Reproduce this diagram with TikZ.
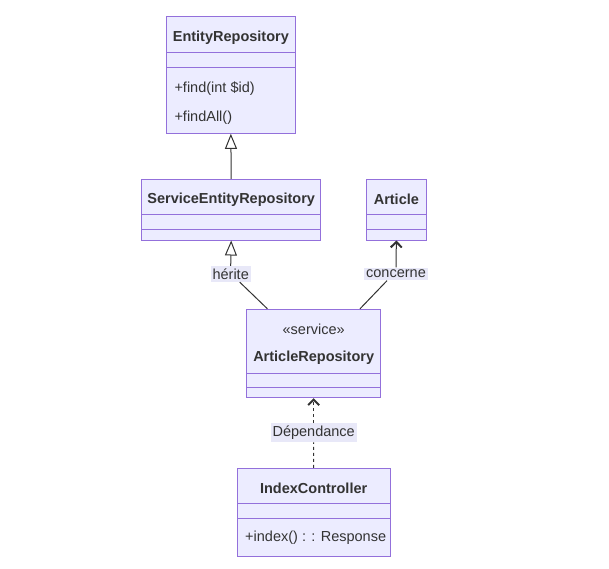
\documentclass[tikz,border=0pt]{standalone}
\usepackage{fontspec}
\setmainfont{Liberation Sans}
\usetikzlibrary{arrows.meta}
\definecolor{boxfill}{HTML}{ECECFF}
\definecolor{boxline}{HTML}{9370DB}
\definecolor{edgecol}{HTML}{333333}
\definecolor{lblbg}{HTML}{E8E8F8}

\begin{document}
\begin{tikzpicture}[x=1pt, y=-1pt]
            \tikzset{cls/.style = {draw=boxline, fill=boxfill, line width=1pt, inner sep=0pt}}
            \tikzset{div/.style = {boxline, line width=1pt}}
            \tikzset{txt/.style = {text=edgecol, inner sep=0pt, yshift=-1.5pt, font=\fontsize{14.5}{17}\selectfont}}
            \tikzset{bold/.style = {text=edgecol, inner sep=0pt, yshift=-1.5pt, font=\fontsize{14.5}{17}\selectfont\bfseries}}
            \tikzset{lbl/.style = {fill=lblbg, text=edgecol, inner xsep=2pt, inner ysep=2.5pt, font=\fontsize{14.5}{17}\selectfont}}
            \tikzset{plain/.style = {edgecol, line width=1pt}}
            \tikzset{inherit/.style = {edgecol, line width=1pt, -{Triangle[open, length=15pt, width=12pt]}}}
            \tikzset{assoc/.style = {edgecol, line width=1pt, -{Straight Barb[length=5.5pt, width=11pt, line width=2pt]}}}
            \tikzset{dep/.style = {edgecol, line width=1pt, dash pattern=on 3pt off 3pt}}

            \useasboundingbox (0,0) rectangle (609,568);

            % classes
            \node[cls, minimum width=128.3pt, minimum height=116.6pt] (er) at (230.85,75) {};
            \node[cls, minimum width=179pt, minimum height=60.7pt] (ser) at (231.2,209.65) {};
            \node[cls, minimum width=60.7pt, minimum height=60.7pt] (art) at (396.35,209.65) {};
            \node[cls, minimum width=134pt, minimum height=88.4pt] (ar) at (313.7,353.5) {};
            \node[cls, minimum width=152.7pt, minimum height=87.7pt] (ic) at (313.65,512.15) {};

            \draw[div] (166.7,52.3) -- (295,52.3);
            \draw[div] (166.7,67.3) -- (295,67.3);
            \draw[div] (141.7,214.3) -- (320.7,214.3);
            \draw[div] (141.7,229.3) -- (320.7,229.3);
            \draw[div] (366,214.3) -- (426.7,214.3);
            \draw[div] (366,229.3) -- (426.7,229.3);
            \draw[div] (246.7,373.3) -- (380.7,373.3);
            \draw[div] (246.7,387.3) -- (380.7,387.3);
            \draw[div] (237.3,503.3) -- (390,503.3);
            \draw[div] (237.3,518.3) -- (390,518.3);

            \node[bold] (ertitle) at (230.85,36) {EntityRepository};
            \node[txt, anchor=west] (erfind) at (174.3,86.7) {+find(int \$id)};
            \node[txt, anchor=west] (erall) at (174.3,116) {+findAll()};
            \node[bold] (sertitle) at (231.2,198) {ServiceEntityRepository};
            \node[bold] (arttitle) at (396.35,198) {Article};
            \node[txt] (arstereo) at (313.7,328.3) {«service»};
            \node[bold] (artitle) at (313.7,356) {ArticleRepository};
            \node[bold] (ictitle) at (313.65,486.7) {IndexController};
            \node[txt, anchor=west] (icindex) at (245,536.7) {+index() : : Response};

            % relations
            \node[lbl] (herite) at (230.7,274) {hérite};
            \node[lbl] (concerne) at (396,274) {concerne};
            \node[lbl] (depend) at (313.7,432.7) {Dépendance};

            \draw[inherit] (ser.north) -- (er.south);
            \draw[plain] (ar.136) -- ([xshift=9pt]herite.south);
            \draw[inherit] (herite.north) -- (ser.south);
            \draw[plain] (ar.44) -- ([xshift=-9pt]concerne.south);
            \draw[assoc] (concerne.north) -- (art.south);
            \draw[dep] (ic.north) -- (depend.south);
            \draw[dep, -{Straight Barb[length=5.5pt, width=11pt, line width=2pt]}] (depend.north) -- (ar.south);

        \end{tikzpicture}
\end{document}
